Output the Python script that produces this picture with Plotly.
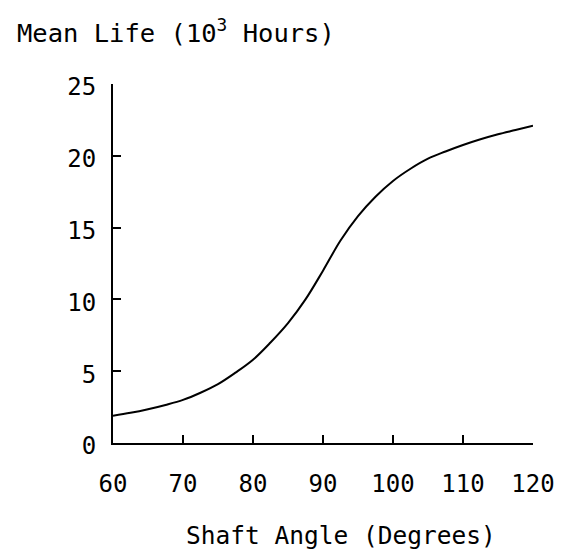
import plotly.graph_objects as go

shaft_angle = [60, 62.5, 65, 67.5, 70, 72.5, 75, 77.5, 80, 82.5, 85, 87.5, 90,
               92.5, 95, 97.5, 100, 102.5, 105, 107.5, 110, 112.5, 115, 117.5, 120]
mean_life = [1.9, 2.1, 2.35, 2.65, 3.0, 3.5, 4.1, 4.9, 5.8, 7.0, 8.35, 10.0, 12.0,
             14.1, 15.8, 17.15, 18.25, 19.1, 19.8, 20.3, 20.75, 21.15, 21.5, 21.8, 22.1]

x_ticks = [60, 70, 80, 90, 100, 110, 120]
y_ticks = [0, 5, 10, 15, 20, 25]

FONT = "DejaVu Sans Mono"

# plot area in figure pixels (page body has an 8px margin)
L, R, T, B = 105, 536, 76, 435
W, H = 559, 548
PW, PH = R - L, B - T

fig = go.Figure()
fig.add_trace(go.Scatter(
    x=shaft_angle, y=mean_life, mode="lines",
    line=dict(color="black", width=2, shape="spline", smoothing=1.0),
    showlegend=False, hoverinfo="skip"))

fig.update_layout(
    width=W, height=H,
    margin=dict(l=L, r=W - R, t=T, b=H - B),
    paper_bgcolor="white", plot_bgcolor="white",
    font=dict(family=FONT, color="black", size=24),
    xaxis=dict(range=[60, 120], tickvals=x_ticks, ticks="inside", ticklen=8,
               tickwidth=2, tickcolor="black", showline=True, linecolor="black",
               linewidth=2, showgrid=False, zeroline=False,
               ticklabelstandoff=18, tickfont=dict(size=24, family=FONT)),
    yaxis=dict(range=[0, 25], tickvals=y_ticks, ticks="inside", ticklen=8,
               tickwidth=2, tickcolor="black", showline=True, linecolor="black",
               linewidth=2, showgrid=False, zeroline=False,
               ticklabelstandoff=10, ticklabelshift=3,
               tickfont=dict(size=24, family=FONT)),
    annotations=[
        dict(text="Mean Life (10<sup>3</sup> Hours)", xref="paper", yref="paper",
             x=(4 - L) / PW, y=1 + (T - 23.5) / PH, xanchor="left", yanchor="middle",
             showarrow=False, font=dict(size=25.5, family=FONT)),
        dict(text="Shaft Angle (Degrees)", xref="paper", yref="paper",
             x=(339 - L) / PW, y=-(527 - B) / PH, xanchor="center",
             yanchor="middle", showarrow=False, font=dict(size=24.5, family=FONT)),
    ],
)

fig.write_html("out.html")
